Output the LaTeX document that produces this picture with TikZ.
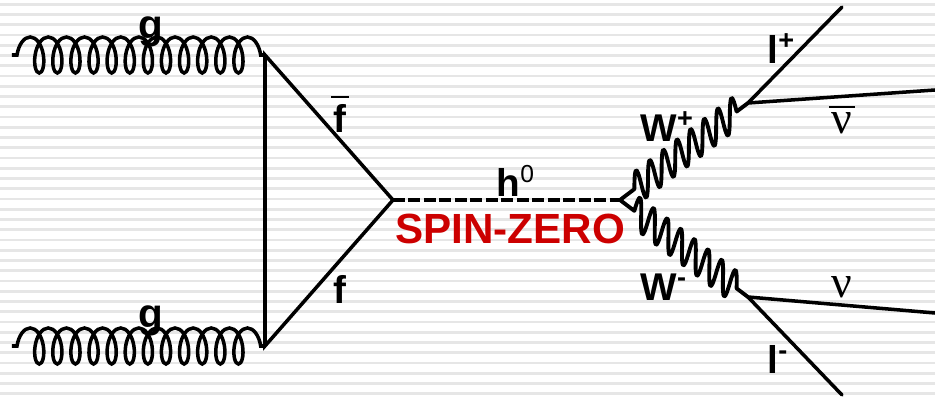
\documentclass[tikz,border=0pt]{standalone}
\usepackage{fontspec}
\setmainfont{Liberation Sans}
\newfontfamily\nufont{Liberation Serif}
\usepackage{xcolor}
\usetikzlibrary{decorations.pathmorphing}
\definecolor{StripeGray}{HTML}{E6E6E6}
\definecolor{SpinRed}{HTML}{CC0000}
\newcommand{\ovbar}[4]{\ooalign{\hfil\raisebox{#2}{\rule{#1}{#3}}\hfil\cr\hfil#4\hfil\cr}}
% half waves, leaning by the aspect value
\pgfdeclaredecoration{leanwave}{up}{
  \state{up}[switch if less than=0.5*\pgfdecorationsegmentlength to final, width=0.5*\pgfdecorationsegmentlength, next state=down]{
    \pgftransformxslant{\pgfdecorationsegmentaspect}
    \pgfpathcurveto{\pgfpoint{0.18*\pgfdecorationsegmentlength}{1.33*\pgfdecorationsegmentamplitude}}{\pgfpoint{0.32*\pgfdecorationsegmentlength}{1.33*\pgfdecorationsegmentamplitude}}{\pgfpoint{0.5*\pgfdecorationsegmentlength}{0pt}}
  }
  \state{down}[switch if less than=0.5*\pgfdecorationsegmentlength to final, width=0.5*\pgfdecorationsegmentlength, next state=up]{
    \pgftransformxslant{\pgfdecorationsegmentaspect}
    \pgfpathcurveto{\pgfpoint{0.18*\pgfdecorationsegmentlength}{-1.33*\pgfdecorationsegmentamplitude}}{\pgfpoint{0.32*\pgfdecorationsegmentlength}{-1.33*\pgfdecorationsegmentamplitude}}{\pgfpoint{0.5*\pgfdecorationsegmentlength}{0pt}}
  }
  \state{final}{\pgfpathlineto{\pgfpointdecoratedpathlast}}
}
\tikzset{
  fermion/.style={line width=1pt, line cap=round},
  gluon/.style={line width=1pt, decorate, decoration={coil, aspect=0.48, segment length=0.181cm, amplitude=0.18cm, pre length=0.05cm, post length=0.02cm}},
  wboson/.style={line width=1.1pt, line join=round, decorate, decoration={leanwave, aspect=#1, segment length=0.171cm, amplitude=0.14cm, pre length=0.18cm, post length=0.13cm}},
  higgs/.style={line width=1pt, dash pattern=on 3.4pt off 1pt},
  lbl/.style={font=\fontsize{11}{11}\selectfont\bfseries, inner sep=0pt, text=black},
  nulbl/.style={font=\fontsize{13}{13}\selectfont\nufont, inner sep=0pt, text=black},
}
\begin{document}
\begin{tikzpicture}[x=0.01cm, y=-0.01cm]
  \useasboundingbox (0,0) rectangle (935,397);
  % stripes
  \foreach \n in {0,...,38}
    \fill[StripeGray] (0,{3+10.25*\n}) rectangle (935,{5.6+10.25*\n});

  \coordinate (gtopin) at (12,55);
  \coordinate (gbotin) at (12,346);
  \coordinate (ftop) at (265,55);
  \coordinate (fbot) at (265,346);
  \coordinate (fapex) at (393,200);
  \coordinate (hend) at (620,200);
  \coordinate (wplus) at (748,103);
  \coordinate (wminus) at (748,297);
  \coordinate (lplus) at (842,7);
  \coordinate (nubar) at (935,90);
  \coordinate (nu) at (935,313);
  \coordinate (lminus) at (842,395);

  \draw[gluon] (gtopin) -- (ftop);
  \draw[gluon] (gbotin) -- (fbot);
  \draw[fermion] (ftop) -- (fbot) -- (fapex) -- cycle;
  \draw[higgs] (fapex) -- (hend);
  \draw[wboson=0.6] (hend) -- (wplus);
  \draw[wboson=-0.55] (hend) -- (wminus);
  \draw[fermion] (wplus) -- (lplus);
  \draw[fermion] (wplus) -- (nubar);
  \draw[fermion] (wminus) -- (nu);
  \draw[fermion] (wminus) -- (lminus);

  \node[lbl, font=\fontsize{11.5}{12}\selectfont\bfseries] (gtop) at (151,32) {g};
  \node[lbl, font=\fontsize{11.5}{12}\selectfont\bfseries] (gbot) at (151,321) {g};
  \node[lbl] (fbar) at (340,114) {\ovbar{0.17cm}{0.34cm}{0.02cm}{f}};
  \node[lbl] (f) at (340,289) {f};
  \node[lbl, anchor=west] (h) at (496,181) {h\textsuperscript{\fontsize{7}{7}\selectfont\mdseries 0}};
  \node[lbl, text=SpinRed, font=\fontsize{12}{12}\selectfont\bfseries] (spin) at (510,229) {SPIN-ZERO};
  \node[lbl, anchor=west] (wp) at (640,127) {W\textsuperscript{+}};
  \node[lbl, anchor=west] (wm) at (640,287) {W\textsuperscript{-}};
  \node[lbl, anchor=west] (lp) at (767,49) {l\textsuperscript{+}};
  \node[lbl, anchor=west] (lm) at (767,359) {l\textsuperscript{-}};
  \node[nulbl] (nb) at (842,120) {\ovbar{0.25cm}{0.26cm}{0.02cm}{ν}};
  \node[nulbl] (n) at (842,287) {ν};
\end{tikzpicture}
\end{document}
